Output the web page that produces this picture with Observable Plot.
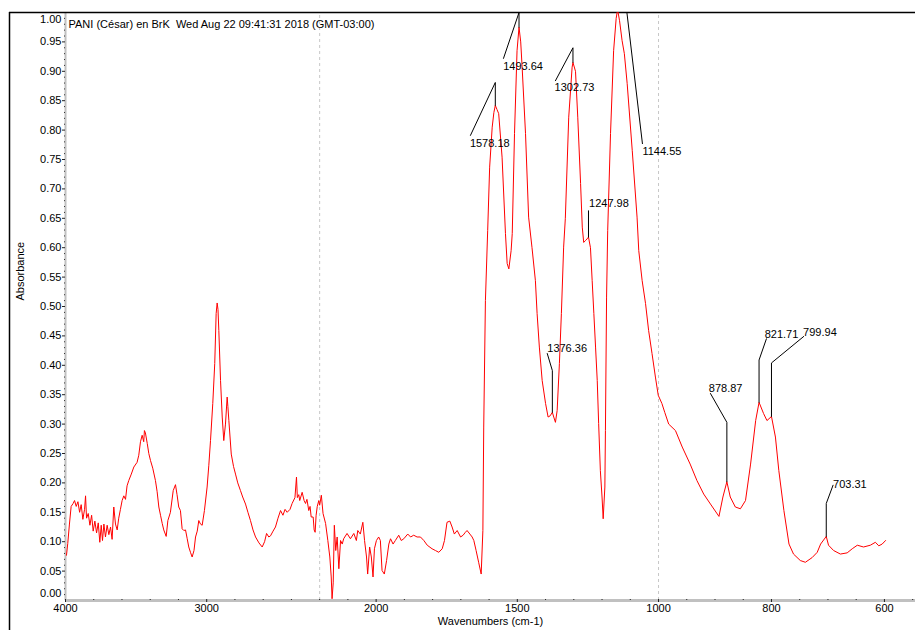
<!DOCTYPE html>
<html>
<head>
<meta charset="utf-8">
<script src="https://cdn.jsdelivr.net/npm/d3@7"></script>
<script src="https://cdn.jsdelivr.net/npm/@observablehq/plot@0.6"></script>
<style>
  html, body { margin: 0; padding: 0; background: #fff; overflow: hidden; }
  #chart svg { display: block; }
</style>
</head>
<body>
<div id="chart"></div>
<script>
// ---- Data ----
const titleText = "PANI (César) en BrK  Wed Aug 22 09:41:31 2018 (GMT-03:00)";
const xTitle = "Wavenumbers (cm-1)";
const yTitle = "Absorbance";

const wavenumbers = [
  3993,3984,3972,3960,3946,3936,3924,3912,3900,3889,3877,3865,3858,3851,3839,3827,3815,3804,3792,3780,
  3768,3757,3747,3738,3728,3717,3705,3693,3681,3670,3658,3646,3634,3623,3611,3599,3587,3575,3564,3552,
  3534,3516,3493,3481,3469,3457,3446,3441,3434,3421,3410,3398,3382,3363,3351,3339,3327,3315,3304,3287,
  3275,3257,3237,3221,3210,3198,3186,3174,3162,3150,3138,3127,3115,3103,3090,3079,3067,3056,3044,3032,
  3016,2997,2985,2973,2957,2943,2933,2926,2920,2914,2902,2890,2879,2867,2855,2850,2843,2826,2810,2796,
  2780,2761,2745,2725,2708,2690,2672,2654,2630,2607,2590,2576,2560,2548,2530,2513,2495,2477,2460,2445,
  2430,2410,2395,2375,2364,2358,2348,2341,2324,2310,2300,2290,2277,2268,2260,2246,2239,2232,2225,2217,
  2206,2200,2194,2188,2179,2171,2164,2159,2156,2152,2148,2143,2138,2132,2126,2120,2115,2103,2091,2079,
  2070,2065,2056,2047,2041,2034,2030,2023,2017,2011,2006,1999,1991,1985,1979,1971,1963,1955,1949,1940,
  1932,1920,1911,1902,1888,1878,1867,1855,1843,1831,1819,1802,1790,1778,1766,1758,1749,1739,1731,1723,
  1713,1701,1692,1684,1678,1668,1660,1654,1646,1637,1628,1622,1619,1613,1605,1598,1589,1583,1578,1572,
  1566,1554,1542,1536,1530,1522,1518,1510,1501,1494,1488,1483,1471,1460,1448,1436,1430,1422,1412,1400,
  1391,1384,1376,1371,1365,1359,1351,1344,1336,1330,1318,1306,1303,1294,1286,1276,1270,1265,1259,1253,
  1248,1241,1235,1229,1223,1217,1212,1206,1200,1196,1190,1188,1184,1180,1170,1159,1150,1145,1138,1129,
  1121,1111,1093,1076,1070,1058,1046,1035,1023,1011,1001,994,989,982,970,958,944,932,920,908,
  893,886,879,873,864,855,846,837,828,822,814,808,800,793,787,778,769,761,749,740,
  728,719,713,703,699,690,678,666,657,648,637,625,616,610,604,598
];
const absorbance = [
  0.077,0.097,0.130,0.160,0.165,0.170,0.160,0.168,0.150,0.163,0.138,0.155,0.178,0.140,0.148,0.128,0.145,0.118,0.135,0.115,
  0.132,0.099,0.128,0.102,0.130,0.108,0.128,0.112,0.125,0.104,0.159,0.130,0.120,0.140,0.155,0.170,0.178,0.172,0.195,0.204,
  0.215,0.227,0.235,0.247,0.270,0.281,0.270,0.289,0.285,0.267,0.250,0.238,0.225,0.204,0.185,0.159,0.145,0.131,0.120,0.109,
  0.136,0.150,0.187,0.197,0.180,0.159,0.153,0.122,0.119,0.120,0.105,0.091,0.082,0.074,0.085,0.108,0.118,0.136,0.130,0.128,
  0.153,0.193,0.230,0.272,0.335,0.403,0.488,0.506,0.495,0.459,0.374,0.312,0.272,0.300,0.346,0.330,0.306,0.249,0.228,0.215,
  0.200,0.187,0.176,0.164,0.150,0.136,0.120,0.108,0.098,0.091,0.100,0.114,0.108,0.110,0.118,0.125,0.140,0.153,0.145,0.155,
  0.150,0.155,0.165,0.175,0.210,0.175,0.180,0.170,0.184,0.170,0.165,0.172,0.153,0.160,0.142,0.142,0.120,0.116,0.145,0.160,
  0.170,0.162,0.179,0.148,0.131,0.102,0.074,0.040,0.003,0.030,0.128,0.085,0.108,0.054,0.102,0.096,0.105,0.114,0.105,0.114,
  0.102,0.119,0.113,0.133,0.102,0.074,0.045,0.091,0.074,0.040,0.088,0.102,0.108,0.102,0.051,0.045,0.068,0.096,0.105,0.096,
  0.102,0.111,0.102,0.105,0.113,0.108,0.111,0.108,0.108,0.102,0.094,0.088,0.085,0.082,0.088,0.102,0.133,0.135,0.125,0.113,
  0.119,0.108,0.111,0.116,0.119,0.113,0.108,0.102,0.085,0.065,0.045,0.119,0.295,0.510,0.629,0.737,0.805,0.830,0.842,0.835,
  0.828,0.754,0.624,0.573,0.564,0.595,0.624,0.794,0.935,0.975,0.950,0.907,0.794,0.652,0.600,0.544,0.488,0.431,0.374,0.335,
  0.312,0.314,0.320,0.312,0.303,0.323,0.403,0.488,0.601,0.650,0.822,0.907,0.915,0.900,0.822,0.709,0.635,0.609,0.612,0.615,
  0.618,0.600,0.544,0.488,0.431,0.374,0.301,0.221,0.176,0.139,0.193,0.289,0.516,0.629,0.794,0.935,0.990,1.005,0.986,0.952,
  0.930,0.879,0.765,0.652,0.595,0.544,0.505,0.459,0.420,0.380,0.349,0.335,0.320,0.300,0.289,0.261,0.232,0.204,0.181,0.164,
  0.143,0.176,0.202,0.176,0.159,0.156,0.170,0.232,0.306,0.337,0.318,0.306,0.313,0.278,0.221,0.153,0.096,0.079,0.068,0.065,
  0.073,0.082,0.096,0.109,0.094,0.085,0.079,0.081,0.088,0.094,0.091,0.094,0.099,0.093,0.096,0.102
];

// Peak annotations: label, peak point, kink point, leader end, text anchor (data units)
const peakLabels = ["1578.18","1493.64","1302.73","1144.55","1247.98","1376.36","878.87","821.71","799.94","703.31"];
const peakWn     = [1578, 1494, 1303, 1112, 1248, 1376, 879, 822, 800, 703];
const peakAbs    = [0.842, 0.975, 0.915, 1.0, 0.618, 0.320, 0.202, 0.337, 0.313, 0.109];
const kinkWn     = [1578, 1494, 1303, 1112, 1248, 1376, 879, 822, 800, 703];
const kinkAbs    = [0.881, 1.0, 0.940, 1.0, 0.663, 0.391, 0.303, 0.409, 0.404, 0.165];
const endWn      = [1666, 1549, 1365, 1057, 1248, 1394, 908, 809, 743, 691];
const endAbs     = [0.791, 0.922, 0.884, 0.777, 0.663, 0.420, 0.352, 0.445, 0.449, 0.196];
const textWn     = [1668, 1550, 1368, 1057, 1246, 1394, 911, 812, 744, 691];
const textAbs    = [0.777, 0.908, 0.872, 0.764, 0.675, 0.428, 0.360, 0.452, 0.455, 0.198];

// Axis ticks
const xMajor = [4000, 3000, 2000, 1500, 1000, 800, 600];
const xMinor = [3800,3600,3400,3200,2800,2600,2400,2200,2100,1900,1800,1700,1600,1400,1300,1200,1100,950,900,850,750,700,650,550];
const yMajor = d3.range(0, 21).map(i => +(i * 0.05).toFixed(2));
const yMinor = d3.range(0, 101).map(i => +(i * 0.01).toFixed(2)).filter(v => Math.round(v * 100) % 5 !== 0);
const scaleBreaks = [2200, 1000];

// ---- Build tables ----
const spectrum = wavenumbers.map((w, i) => ({wn: w, a: absorbance[i]}));
const leaders = [];
peakLabels.forEach((lab, i) => {
  leaders.push({id: lab, wn: endWn[i], a: endAbs[i]});
  leaders.push({id: lab, wn: kinkWn[i], a: kinkAbs[i]});
  leaders.push({id: lab, wn: peakWn[i], a: peakAbs[i]});
});
const labels = peakLabels.map((lab, i) => ({label: lab, wn: textWn[i], a: textAbs[i]}));

const W = 915, H = 630, mL = 65, mR = 0, mT = 12, mB = 30;
// Piecewise x scale: 4000-2200, 2200-1000, 1000-545 with 1:2:4 compression
const unit = (W - mL - mR) / (1800 + 2400 + 1820);
const xDomain = [4000, 2200, 1000, 545];
const xRange = [mL, mL + 1800 * unit, mL + 4200 * unit, W - mR];
const leftEdge = 4000 + 56 / unit; // window border, left of the frame
const fmt2 = d3.format(".2f");
const font = "'Liberation Sans', Arial, sans-serif";

const chart = Plot.plot({
  width: W, height: H,
  marginLeft: mL, marginRight: mR, marginTop: mT, marginBottom: mB,
  style: {fontFamily: font, fontSize: "11px", background: "#fff", color: "#000"},
  x: {type: "linear", domain: xDomain, range: xRange, axis: null},
  y: {domain: [0, 1], axis: null},
  marks: [
    // scale break dashed lines
    Plot.ruleX(scaleBreaks, {y1: 0, y2: 1, stroke: "#c8c8c8", strokeDasharray: "3,3", strokeWidth: 1}),
    // axis lines
    Plot.ruleX([4000], {y1: 0, y2: 1, stroke: "#c0c0c0", strokeWidth: 2}),
    Plot.ruleY([0], {x1: 4000, x2: 545, stroke: "#c0c0c0", strokeWidth: 3}),
    // window border
    Plot.ruleY([1], {x1: leftEdge, x2: 545, stroke: "#000", strokeWidth: 1.5}),
    Plot.ruleX([leftEdge], {y1: 1, y2: -0.06, stroke: "#000", strokeWidth: 1.5}),
    // spectrum
    Plot.line(spectrum, {x: "wn", y: "a", stroke: "#ff0000", strokeWidth: 1, clip: true}),
    // peak leaders and labels
    Plot.line(leaders, {x: "wn", y: "a", z: "id", stroke: "#000", strokeWidth: 1, clip: true}),
    Plot.text(labels, {x: "wn", y: "a", text: "label", textAnchor: "start", fontSize: 11, fill: "#000"}),
    // y axis
    Plot.axisY(yMinor, {tickSize: 1, tickFormat: () => "", stroke: "#333", label: null}),
    Plot.axisY(yMajor.filter(v => v > 0 && v < 1), {tickSize: 3, tickPadding: 1, tickFormat: fmt2, fontSize: 11, stroke: "#222", fill: "#000", label: null}),
    Plot.axisY([1], {tickSize: 0, tickPadding: 4, tickFormat: fmt2, fontSize: 11, dy: 7, fill: "#000", label: null}),
    Plot.axisY([0], {tickSize: 0, tickPadding: 4, tickFormat: fmt2, fontSize: 11, dy: -7, fill: "#000", label: null}),
    // x axis
    Plot.axisX(xMinor, {tickSize: 1, tickFormat: () => "", stroke: "#222", dy: -1, label: null}),
    Plot.axisX(xMajor, {tickSize: 3, tickPadding: 2, tickFormat: d3.format("d"), fontSize: 11, stroke: "#222", fill: "#000", dy: -1, label: null}),
    // titles
    Plot.text([titleText], {frameAnchor: "top-left", dx: 3, dy: 8, textAnchor: "start", fontSize: 11, fill: "#000"}),
    Plot.text([yTitle], {frameAnchor: "left", dx: -45, dy: -6, rotate: -90, fontSize: 11, fill: "#000"}),
    Plot.text([xTitle], {frameAnchor: "bottom", dy: 24, fontSize: 11, fill: "#000"})
  ]
});
document.getElementById("chart").appendChild(chart);
</script>
</body>
</html>
